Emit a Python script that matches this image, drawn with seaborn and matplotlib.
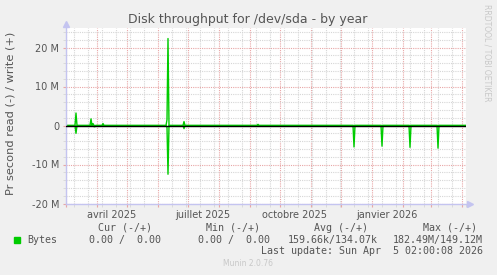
import numpy as np
import pandas as pd
import matplotlib
matplotlib.use("Agg")
import matplotlib.pyplot as plt
import matplotlib.dates as mdates
from matplotlib.ticker import FuncFormatter, MultipleLocator
import seaborn as sns
import datetime as dt

# ---------------- data ----------------
start_date = "2025-03-01"
end_date = "2026-04-05"
write_dates = ["2025-03-11", "2025-03-26", "2025-03-28", "2025-04-07",
               "2025-06-10", "2025-06-11", "2025-06-27", "2025-09-09"]
write_mbytes = [3.2, 1.7, 0.5, 0.5, 1.5, 22.3, 1.0, 0.3]
read_dates = ["2025-03-11", "2025-03-29", "2025-03-30", "2025-06-10", "2025-06-11",
              "2025-06-27", "2025-12-14", "2026-01-11", "2026-02-08", "2026-03-08"]
read_mbytes = [2.0, 0.3, 0.3, 0.5, 12.5, 0.8, 5.5, 5.3, 5.6, 5.8]

x_labels = ["avril 2025", "juillet 2025", "octobre 2025", "janvier 2026"]
x_label_dates = ["2025-04-16", "2025-07-16", "2025-10-16", "2026-01-16"]

legend_name = "Bytes"
col_headers = ["Cur (-/+)", "Min (-/+)", "Avg (-/+)", "Max (-/+)"]
col_values = ["0.00 /  0.00", "0.00 /  0.00", "159.66k/134.07k", "182.49M/149.12M"]
last_update = "Last update: Sun Apr  5 02:00:08 2026"
title = "Disk throughput for /dev/sda - by year"
ylabel = "Pr second read (-) / write (+)"
watermark = "RRDTOOL / TOBI OETIKER"
footer = "Munin 2.0.76"

# ---------------- build series ----------------
days = pd.date_range(start_date, end_date, freq="D")
write = pd.Series(0.0, index=days)
write.loc[pd.to_datetime(write_dates)] = np.array(write_mbytes) * 1e6
read = pd.Series(0.0, index=days)
read.loc[pd.to_datetime(read_dates)] = np.array(read_mbytes) * 1e6
df = pd.DataFrame({"date": days, "write": write.values, "read": -read.values})

# ---------------- figure ----------------
W, H = 497, 275
fig = plt.figure(figsize=(W / 100, H / 100), dpi=100)
fig.patch.set_facecolor("#F0F0F0")
L, R, T, B = 66, 466, 28, 203.5
ax = fig.add_axes([L / W, 1 - B / H, (R - L) / W, (B - T) / H])
ax.set_facecolor("white")

ax.set_xlim(pd.Timestamp(start_date), pd.Timestamp(end_date))
ax.set_ylim(-20e6, 25e6)

red = "#E8A6A6"
grey = "#D6D6D6"
ax.xaxis.set_major_locator(mdates.MonthLocator())
minor_rule = mdates.rrulewrapper(mdates.WEEKLY, interval=2, dtstart=dt.datetime(2025, 3, 9))
ax.xaxis.set_minor_locator(mdates.RRuleLocator(minor_rule))
ax.yaxis.set_major_locator(MultipleLocator(10e6))
ax.yaxis.set_minor_locator(MultipleLocator(2e6))

ax.grid(which="minor", color=grey, linestyle=(0, (1, 1)), linewidth=0.8)
ax.grid(which="major", color=red, linestyle=(0, (1, 1)), linewidth=0.8)
ax.set_axisbelow(True)

ax.xaxis.set_major_formatter(FuncFormatter(lambda v, p: ""))
ax.xaxis.set_minor_formatter(FuncFormatter(lambda v, p: ""))
ax.tick_params(axis="x", which="major", length=2, color=red, labelsize=0)
ax.tick_params(axis="x", which="minor", length=2, color=grey)
ax.tick_params(axis="y", which="major", length=2, color=red, labelsize=7, labelcolor="#555555", pad=3)
ax.tick_params(axis="y", which="minor", length=2, color=grey)


def mfmt(v, p):
    if abs(v) < 1:
        return "0"
    return f"{v / 1e6:.0f} M"


ax.yaxis.set_major_formatter(FuncFormatter(mfmt))

for s in ["top", "right"]:
    ax.spines[s].set_visible(False)
for s in ["left", "bottom"]:
    ax.spines[s].set_color("#C4C4F0")
    ax.spines[s].set_linewidth(1)

# arrows at axis ends
ax.plot([0], [1.02], marker="^", color="#C4C4F0", markersize=5, transform=ax.transAxes, clip_on=False)
ax.plot([1.01], [0], marker=">", color="#C4C4F0", markersize=5, transform=ax.transAxes, clip_on=False)

# data
sns.lineplot(data=df, x="date", y="write", ax=ax, color="#00CC00", linewidth=1.0, legend=False)
sns.lineplot(data=df, x="date", y="read", ax=ax, color="#00CC00", linewidth=1.0, legend=False)
ax.axhline(0, color="black", linewidth=1.0, zorder=5)

ax.set_xlabel("")
ax.set_ylabel("")

# x labels at mid-month
for lab, d in zip(x_labels, x_label_dates):
    ax.text(pd.Timestamp(d), -0.035, lab, transform=ax.get_xaxis_transform(),
            ha="center", va="top", fontsize=7, color="#555555")

def fx(x):
    return x / W

def fy(y):
    return 1 - y / H

fig.text(fx(248), fy(19), title, ha="center", va="center", fontsize=9, color="#555555")
fig.text(fx(11), fy(113.5), ylabel, ha="center", va="center", rotation=90, fontsize=8.2, color="#555555")
fig.text(fx(487), fy(53), watermark, ha="center", va="center", rotation=270, fontsize=5.5, color="#C8C8C8")

mono = "DejaVu Sans Mono"
header_centers = [125, 233, 341, 450]
for h, cx in zip(col_headers, header_centers):
    fig.text(fx(cx), fy(228), h, ha="center", va="center", fontsize=7.2, family=mono, color="#555555")
value_rights = [161, 270, 378, 483]
for v, rx in zip(col_values, value_rights):
    fig.text(fx(rx), fy(240), v, ha="right", va="center", fontsize=7.2, family=mono, color="#555555")
fig.text(fx(27), fy(240), legend_name, ha="left", va="center", fontsize=7.2, family=mono, color="#555555")
fig.patches.append(matplotlib.patches.Rectangle((fx(14), fy(243)), 6 / W, 6 / H,
                                                transform=fig.transFigure, color="#00CC00"))
fig.text(fx(483), fy(251), last_update, ha="right", va="center", fontsize=7.2, family=mono, color="#555555")
fig.text(fx(248), fy(264), footer, ha="center", va="center", fontsize=5.5, color="#C8C8C8")

fig.savefig("out.png", dpi=100, facecolor=fig.get_facecolor())
